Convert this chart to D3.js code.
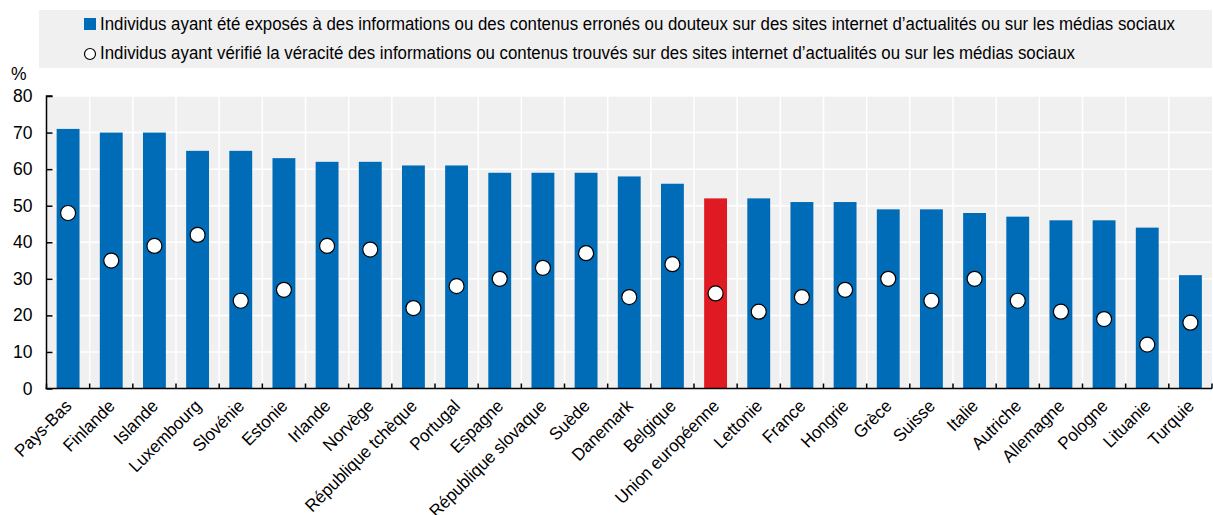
<!DOCTYPE html>
<html>
<head>
<meta charset="utf-8">
<script src="https://cdn.jsdelivr.net/npm/d3@7"></script>
<style>
  body { margin: 0; background: #fff; }
  text { font-family: "Liberation Sans", Arial, sans-serif; fill: #000; }
</style>
</head>
<body>
<script>
// data
var categories = ["Pays-Bas", "Finlande", "Islande", "Luxembourg", "Slovénie", "Estonie", "Irlande", "Norvège",
  "République tchèque", "Portugal", "Espagne", "République slovaque", "Suède", "Danemark", "Belgique",
  "Union européenne", "Lettonie", "France", "Hongrie", "Grèce", "Suisse", "Italie", "Autriche",
  "Allemagne", "Pologne", "Lituanie", "Turquie"];
var exposed = [71, 70, 70, 65, 65, 63, 62, 62, 61, 61, 59, 59, 59, 58, 56, 52, 52, 51, 51, 49, 49, 48, 47, 46, 46, 44, 31];
var verified = [48, 35, 39, 42, 24, 27, 39, 38, 22, 28, 30, 33, 37, 25, 34, 26, 21, 25, 27, 30, 24, 30, 24, 21, 19, 12, 18];
var yTicks = [0, 10, 20, 30, 40, 50, 60, 70, 80];
var legendLabels = [
  "Individus ayant été exposés à des informations ou des contenus erronés ou douteux sur des sites internet d’actualités ou sur les médias sociaux",
  "Individus ayant vérifié la véracité des informations ou contenus trouvés sur des sites internet d’actualités ou sur les médias sociaux"
];
var highlight = "Union européenne";

window.onload = function(){
  var w = 1213, h = 515;
  var blue = "#006bb6", red = "#e01a22", grey = "#f0f0f0";
  var squeeze = 0.963; // the original font is a little narrower

  var svg = d3.select("body").append("svg")
    .attr("width", w)
    .attr("height", h);

  // legend box
  svg.append("rect")
    .attr("x", 39).attr("y", 10)
    .attr("width", 1173).attr("height", 58)
    .style("fill", grey);

  svg.append("rect")
    .attr("x", 84).attr("y", 18)
    .attr("width", 12).attr("height", 12)
    .style("fill", blue);
  svg.append("circle")
    .attr("cx", 90).attr("cy", 54).attr("r", 5.5)
    .style("fill", "#fff").style("stroke", "#000").style("stroke-width", 1.2);

  var legendEnds = [1175, 1075];
  svg.selectAll(".legendText")
    .data(legendLabels)
    .enter()
    .append("text")
    .attr("class", "legendText")
    .attr("x", 100)
    .attr("y", function(d, i){ return 30 + i * 29; })
    .attr("textLength", function(d, i){ return legendEnds[i] - 100; })
    .attr("lengthAdjust", "spacingAndGlyphs")
    .style("font-size", "17.5px")
    .text(function(d){ return d; });

  // scales
  var left = 46.5, right = 1212, top = 96, bottom = 388.5;
  var x = d3.scaleBand()
    .domain(categories)
    .range([left, right])
    .padding(0);
  var y = d3.scaleLinear()
    .domain([0, 80])
    .range([bottom, top]);
  var barW = x.bandwidth() * 0.53;

  // plot background
  svg.append("rect")
    .attr("x", left).attr("y", top)
    .attr("width", right - left).attr("height", bottom - top)
    .style("fill", grey);

  // white grid
  svg.selectAll(".hgrid")
    .data(yTicks.slice(1))
    .enter()
    .append("line")
    .attr("class", "hgrid")
    .attr("x1", left).attr("x2", right)
    .attr("y1", function(d){ return y(d); })
    .attr("y2", function(d){ return y(d); })
    .style("stroke", "#fff").style("stroke-width", 1.5);

  svg.selectAll(".vgrid")
    .data(categories.slice(1))
    .enter()
    .append("line")
    .attr("class", "vgrid")
    .attr("x1", function(d){ return x(d); })
    .attr("x2", function(d){ return x(d); })
    .attr("y1", top).attr("y2", bottom)
    .style("stroke", "#fff").style("stroke-width", 1.5);

  // bars
  svg.selectAll(".bar")
    .data(categories)
    .enter()
    .append("rect")
    .attr("class", "bar")
    .attr("x", function(d){ return x(d) + x.bandwidth() / 2 - barW / 2; })
    .attr("width", barW)
    .attr("y", function(d, i){ return y(exposed[i]); })
    .attr("height", function(d, i){ return y(0) - y(exposed[i]); })
    .style("fill", function(d){ return d === highlight ? red : blue; });

  // dots
  svg.selectAll(".dot")
    .data(categories)
    .enter()
    .append("circle")
    .attr("class", "dot")
    .attr("cx", function(d){ return x(d) + x.bandwidth() / 2; })
    .attr("cy", function(d, i){ return y(verified[i]); })
    .attr("r", 7.5)
    .style("fill", "#fff").style("stroke", "#000").style("stroke-width", 1.2);

  // y axis
  var yAxis = d3.axisLeft(y)
    .tickValues(yTicks)
    .tickSize(-6)
    .tickPadding(14);
  var gy = svg.append("g")
    .attr("class", "axis")
    .attr("transform", "translate(" + left + ",0)")
    .call(yAxis);
  gy.select(".domain").attr("d", "M6," + top + "H0V" + bottom).style("stroke", "#000").style("stroke-width", 1.5);
  gy.selectAll(".tick line").style("stroke", "#000").style("stroke-width", 1.5);
  gy.selectAll(".tick text")
    .style("font-size", "17.5px")
    .style("font-family", "\"Liberation Sans\", Arial, sans-serif");

  svg.append("text")
    .attr("x", 11).attr("y", 80)
    .style("font-size", "17.5px")
    .text("%");

  // x axis: ticks at band boundaries, pointing up
  var bounds = categories.map(function(d){ return x(d); }).concat([right]);
  svg.selectAll(".xtick")
    .data(bounds)
    .enter()
    .append("line")
    .attr("class", "xtick")
    .attr("x1", function(d){ return d; })
    .attr("x2", function(d){ return d; })
    .attr("y1", bottom).attr("y2", bottom - 5)
    .style("stroke", "#000").style("stroke-width", 1.5);
  svg.append("line")
    .attr("x1", left - 1).attr("x2", right)
    .attr("y1", bottom).attr("y2", bottom)
    .style("stroke", "#000").style("stroke-width", 1.5);

  svg.selectAll(".xlabel")
    .data(categories)
    .enter()
    .append("text")
    .attr("class", "xlabel")
    .attr("text-anchor", "end")
    .attr("transform", function(d){
      return "translate(" + (x(d) + x.bandwidth() / 2 - 4) + "," + (bottom + 10) + ") rotate(-45) scale(" + squeeze + ",1)";
    })
    .attr("dy", "0.7em")
    .style("font-size", "17.5px")
    .text(function(d){ return d; });
};
</script>
</body>
</html>
